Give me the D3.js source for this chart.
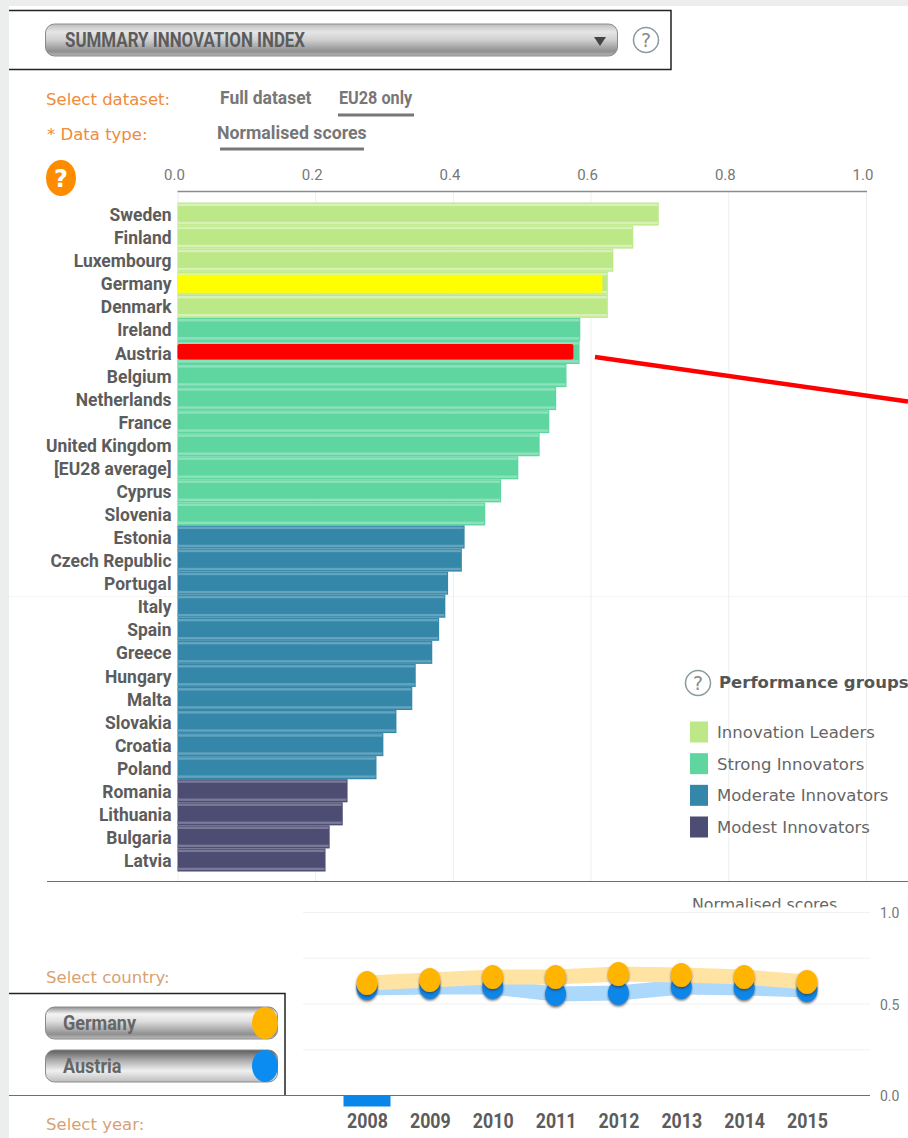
<!DOCTYPE html>
<html>
<head>
<meta charset="utf-8">
<script src="https://cdnjs.cloudflare.com/ajax/libs/d3/7.8.5/d3.min.js"></script>
<style>
html, body { margin: 0; padding: 0; background: #fff; overflow: hidden; }
svg { display: block; }
.narrow { font-family: "Roboto", sans-serif; font-weight: 700; }
.verd { font-family: "DejaVu Sans", sans-serif; }
.domain { display: none; }
</style>
</head>
<body>
<div id="chart"></div>
<script>
const countries = ['Sweden', 'Finland', 'Luxembourg', 'Germany', 'Denmark', 'Ireland', 'Austria', 'Belgium',
  'Netherlands', 'France', 'United Kingdom', '[EU28 average]', 'Cyprus', 'Slovenia', 'Estonia', 'Czech Republic',
  'Portugal', 'Italy', 'Spain', 'Greece', 'Hungary', 'Malta', 'Slovakia', 'Croatia', 'Poland', 'Romania',
  'Lithuania', 'Bulgaria', 'Latvia'];
const scores = [0.699, 0.662, 0.633, 0.625, 0.625, 0.585, 0.584, 0.565, 0.550, 0.540, 0.526, 0.495, 0.470, 0.447,
  0.417, 0.413, 0.393, 0.389, 0.380, 0.370, 0.346, 0.341, 0.318, 0.299, 0.289, 0.247, 0.240, 0.221, 0.215];
const groupOf = [0, 0, 0, 0, 0, 1, 1, 1, 1, 1, 1, 1, 1, 1, 2, 2, 2, 2, 2, 2, 2, 2, 2, 2, 2, 3, 3, 3, 3];

const groupNames = ['Innovation Leaders', 'Strong Innovators', 'Moderate Innovators', 'Modest Innovators'];
const groupColors = ['#bde887', '#5fd6a0', '#3487a9', '#4d4c72'];
const groupLight = ['#d8f1b8', '#8de2bc', '#63a4bf', '#7a7997'];

const axisTicks = [0, 0.2, 0.4, 0.6, 0.8, 1];

// the two highlighted bars painted over the chart
const highlightCountries = ['Germany', 'Austria'];
const highlightScores = [0.617, 0.575];
const highlightColors = ['#ffff00', '#ff0000'];

const years = [2008, 2009, 2010, 2011, 2012, 2013, 2014, 2015];
const germany = [0.612, 0.628, 0.645, 0.645, 0.661, 0.656, 0.645, 0.617];
const austria = [0.585, 0.590, 0.590, 0.552, 0.557, 0.590, 0.585, 0.574];
const miniTicks = [0, 0.5, 1];
const miniGrid = [0.25, 0.5, 0.75, 1];

const width = 908;
const height = 1138;

// no condensed face is installed, so narrow the glyphs of the label font
const squeeze = (sel, k) => sel.each(function () {
  this.setAttribute('textLength', this.getComputedTextLength() * k);
  this.setAttribute('lengthAdjust', 'spacingAndGlyphs');
});

const svg = d3.select('#chart').append('svg')
  .attr('width', width)
  .attr('height', height);

const defs = svg.append('defs');

const addGradient = (id, stops) => {
  const g = defs.append('linearGradient').attr('id', id)
    .attr('x1', 0).attr('x2', 0).attr('y1', 0).attr('y2', 1);
  stops.forEach(s => g.append('stop').attr('offset', s[0]).attr('stop-color', s[1]));
};
addGradient('drop', [[0, '#bdbdbd'], [0.25, '#e6e6e6'], [0.5, '#cfcfcf'], [0.85, '#8f8f8f'], [1, '#b5b5b5']]);
addGradient('btn', [[0, '#8f8f8f'], [0.22, '#f4f4f4'], [0.45, '#dedede'], [0.85, '#8f8f8f'], [1, '#bdbdbd']]);
addGradient('btnDark', [[0, '#5c5c5c'], [0.3, '#a8a8a8'], [0.65, '#f0f0f0'], [1, '#bdbdbd']]);

const shadow = defs.append('filter').attr('id', 'dotShadow')
  .attr('x', '-40%').attr('y', '-40%').attr('width', '180%').attr('height', '180%');
shadow.append('feDropShadow').attr('dx', 0).attr('dy', 1.5).attr('stdDeviation', 1.2)
  .attr('flood-color', '#333').attr('flood-opacity', 0.7);

defs.append('clipPath').attr('id', 'scoreClip').append('rect')
  .attr('x', 680).attr('y', 885).attr('width', 180).attr('height', 22.5);

// page frame
svg.append('rect').attr('width', width).attr('height', height).attr('fill', '#eceeee');
svg.append('rect').attr('x', 9).attr('y', 6).attr('width', width - 9).attr('height', height - 6).attr('fill', '#fff');

// top selector
svg.append('path').attr('d', 'M9,10.5H671V69.5H9').attr('fill', 'none').attr('stroke', '#222').attr('stroke-width', 1.5);
svg.append('rect').attr('x', 45.5).attr('y', 24).attr('width', 572).attr('height', 32).attr('rx', 9)
  .attr('fill', 'url(#drop)').attr('stroke', '#8a8a8a');
svg.append('text').attr('class', 'narrow').attr('x', 65).attr('y', 47).attr('font-size', 21)
  .attr('fill', '#5c5c5c').text('SUMMARY INNOVATION INDEX').call(squeeze, 0.805);
svg.append('path').attr('d', 'M594,37H606L600,46Z').attr('fill', '#444');

const helpIcon = (cx, cy) => {
  svg.append('circle').attr('cx', cx).attr('cy', cy).attr('r', 12.5).attr('fill', '#fff')
    .attr('stroke', '#8a9a9f').attr('stroke-width', 1.5);
  svg.append('text').attr('class', 'verd').attr('x', cx).attr('y', cy + 7).attr('text-anchor', 'middle')
    .attr('font-size', 19).attr('fill', '#8a8a8a').text('?');
};
helpIcon(646, 40);

// dataset controls
const orange = (t, x, y, c) => svg.append('text').attr('class', 'verd').attr('x', x).attr('y', y)
  .attr('font-size', 16.5).attr('fill', c || '#f08a3c').text(t);
orange('Select dataset:', 46, 105);
orange('* Data type:', 47, 140);
orange('Select country:', 46, 983, '#d6a273');
orange('Select year:', 46, 1130, '#d6a273');

const option = (t, x, y, k) => svg.append('text').attr('class', 'narrow').attr('x', x).attr('y', y)
  .attr('font-size', 18).attr('fill', '#777').text(t).call(squeeze, k);
option('Full dataset', 220, 104, 0.97);
option('EU28 only', 339, 104, 0.9);
option('Normalised scores', 217, 139, 0.985);
svg.append('rect').attr('x', 338).attr('y', 113.5).attr('width', 76).attr('height', 3).attr('fill', '#777');
svg.append('rect').attr('x', 220).attr('y', 147.5).attr('width', 144).attr('height', 3).attr('fill', '#777');

svg.append('ellipse').attr('cx', 61).attr('cy', 178).attr('rx', 15).attr('ry', 18).attr('fill', '#ff8c00');
svg.append('text').attr('class', 'verd').attr('x', 61).attr('y', 187).attr('text-anchor', 'middle')
  .attr('font-size', 24).attr('font-weight', 700).attr('fill', '#fff').text('?');

// main bar chart
const x = d3.scaleLinear().domain([0, 1]).range([177.5, 866]);
const y = d3.scaleBand().domain(countries).range([202.5, 871.5]);
const rows = countries.map((c, i) => ({ country: c, score: scores[i], group: groupOf[i] }));

svg.append('line').attr('x1', 9).attr('x2', width).attr('y1', 596.5).attr('y2', 596.5).attr('stroke', '#f4f4f4');

const grid = svg.append('g').attr('transform', 'translate(0,192)')
  .call(d3.axisBottom(x).tickValues(axisTicks).tickSize(689).tickFormat(''));
grid.selectAll('.tick line').attr('stroke', '#eeeeee');

svg.append('line').attr('x1', x(0)).attr('x2', x(1) + 1).attr('y1', 191.5).attr('y2', 191.5)
  .attr('stroke', '#8c8c8c').attr('stroke-width', 1.5);

const topAxis = svg.append('g').attr('transform', 'translate(-3.5,192)')
  .call(d3.axisTop(x).tickValues(axisTicks).tickSize(0).tickPadding(12).tickFormat(d3.format('.1f')));
topAxis.selectAll('text').attr('font-family', 'Roboto, sans-serif').attr('font-size', 15).attr('fill', '#777');

const bars = svg.append('g').selectAll('g').data(rows).enter().append('g')
  .attr('transform', d => `translate(${x(0)},${y(d.country)})`);
bars.append('rect')
  .attr('width', d => x(d.score) - x(0))
  .attr('height', y.bandwidth())
  .attr('fill', d => groupColors[d.group]);
bars.append('rect')
  .attr('y', 1.2).attr('height', 2.4)
  .attr('width', d => x(d.score) - x(0) - 1)
  .attr('fill', d => groupLight[d.group]);
bars.append('rect')
  .attr('y', y.bandwidth() - 3.8).attr('height', 2.4)
  .attr('width', d => x(d.score) - x(0) - 1)
  .attr('fill', d => groupLight[d.group]);

// highlight overlays
svg.append('g').selectAll('rect').data(highlightCountries).enter().append('rect')
  .attr('x', x(0))
  .attr('y', d => y(d) + 3)
  .attr('width', (d, i) => x(highlightScores[i]) - x(0))
  .attr('height', (d, i) => i === 0 ? y.bandwidth() - 5 : y.bandwidth() - 7.5)
  .attr('rx', (d, i) => i === 0 ? 0 : 2)
  .attr('fill', (d, i) => highlightColors[i]);

const leftAxis = svg.append('g').attr('transform', `translate(${x(0)},1)`)
  .call(d3.axisLeft(y).tickSize(0).tickPadding(6));
leftAxis.selectAll('text').attr('class', 'narrow').attr('font-family', null).attr('font-size', 19)
  .attr('fill', '#5c5c5c').call(squeeze, 0.918);

svg.append('line').attr('x1', 595).attr('y1', 357).attr('x2', 908).attr('y2', 401.5)
  .attr('stroke', '#ff0000').attr('stroke-width', 4.5);

svg.append('line').attr('x1', 47).attr('x2', width).attr('y1', 881.5).attr('y2', 881.5)
  .attr('stroke', '#6e6e6e').attr('stroke-width', 1.2);

// legend
helpIcon(698, 683);
svg.append('text').attr('class', 'verd').attr('x', 719).attr('y', 688).attr('font-size', 16.5)
  .attr('font-weight', 700).attr('fill', '#555').text('Performance groups');
const legendY = d3.scalePoint().domain(groupNames).range([732, 827]);
const legend = svg.append('g').selectAll('g').data(groupNames).enter().append('g')
  .attr('transform', d => `translate(690,${legendY(d)})`);
legend.append('rect').attr('y', -10.5).attr('width', 18).attr('height', 21)
  .attr('fill', (d, i) => groupColors[i]);
legend.append('text').attr('class', 'verd').attr('x', 27).attr('y', 6).attr('font-size', 16.5)
  .attr('fill', '#666').text(d => d);

// year chart
const xYear = d3.scalePoint().domain(years).range([367, 807]);
const yMini = d3.scaleLinear().domain([0, 1]).range([1095, 912]);

svg.append('g').selectAll('line').data(miniGrid).enter().append('line')
  .attr('x1', 303).attr('x2', 870)
  .attr('y1', d => yMini(d) + 0.5).attr('y2', d => yMini(d) + 0.5)
  .attr('stroke', '#f2f2f2');

svg.append('text').attr('class', 'verd').attr('x', 692).attr('y', 910).attr('font-size', 15.8)
  .attr('fill', '#666').attr('clip-path', 'url(#scoreClip)').text('Normalised scores');

svg.append('line').attr('x1', 9).attr('x2', 870).attr('y1', 1095.5).attr('y2', 1095.5)
  .attr('stroke', '#6e6e6e').attr('stroke-width', 1.2);

const rightAxis = svg.append('g').attr('transform', 'translate(872,1.5)')
  .call(d3.axisRight(yMini).tickValues(miniTicks).tickSize(0).tickPadding(8).tickFormat(d3.format('.1f')));
rightAxis.selectAll('text').attr('font-family', 'Roboto, sans-serif').attr('font-size', 14).attr('fill', '#777');

svg.append('rect').attr('x', xYear(2008) - 23.5).attr('y', 1096).attr('width', 47).attr('height', 10.5)
  .attr('fill', '#0a86e8');

const yearAxis = svg.append('g').attr('transform', 'translate(0,1109)')
  .call(d3.axisBottom(xYear).tickSize(0).tickPadding(4).tickFormat(d3.format('d')));
yearAxis.selectAll('text').attr('class', 'narrow').attr('font-family', null).attr('font-size', 21)
  .attr('fill', '#5c5c5c').call(squeeze, 0.846);

const line = d3.line().x((d, i) => xYear(years[i])).y(d => yMini(d));
svg.append('path').attr('d', line(austria)).attr('fill', 'none').attr('stroke', '#acd9fb').attr('stroke-width', 15);
svg.append('path').attr('d', line(germany)).attr('fill', 'none').attr('stroke', '#ffe3a3').attr('stroke-width', 15);

svg.append('g').selectAll('ellipse').data(austria).enter().append('ellipse')
  .attr('cx', (d, i) => xYear(years[i])).attr('cy', d => yMini(d))
  .attr('rx', 10.5).attr('ry', 12).attr('fill', '#0a86e8').attr('filter', 'url(#dotShadow)');
svg.append('g').selectAll('ellipse').data(germany).enter().append('ellipse')
  .attr('cx', (d, i) => xYear(years[i])).attr('cy', d => yMini(d))
  .attr('rx', 10.5).attr('ry', 12).attr('fill', '#ffb400').attr('filter', 'url(#dotShadow)');

// country selector
svg.append('path').attr('d', 'M9,993.5H285V1095').attr('fill', 'none').attr('stroke', '#222').attr('stroke-width', 1.5);
const button = (t, by, fill, dot) => {
  svg.append('rect').attr('x', 45.5).attr('y', by).attr('width', 232).attr('height', 32).attr('rx', 9)
    .attr('fill', fill).attr('stroke', '#8a8a8a');
  svg.append('text').attr('class', 'narrow').attr('x', 63).attr('y', by + 23).attr('font-size', 21)
    .attr('fill', '#666').text(t).call(squeeze, 0.858);
  svg.append('ellipse').attr('cx', 265).attr('cy', by + 16).attr('rx', 13).attr('ry', 16).attr('fill', dot);
};
button('Germany', 1007, 'url(#btn)', '#ffb400');
button('Austria', 1050, 'url(#btnDark)', '#0a8cf0');
</script>
</body>
</html>
